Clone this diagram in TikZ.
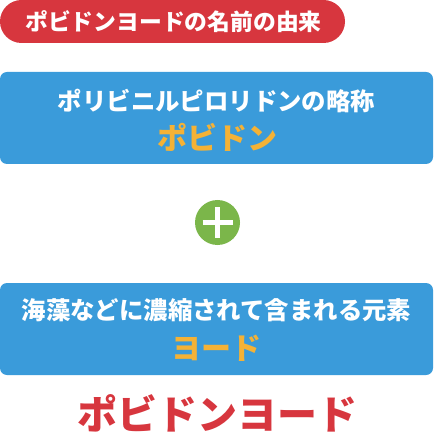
\documentclass[tikz,border=0pt]{standalone}
\usepackage{fontspec}
\newfontfamily\cjk{Noto Sans CJK JP}
\definecolor{pillred}{HTML}{D7363E}
\definecolor{boxblue}{HTML}{3A9BDA}
\definecolor{accorange}{HTML}{F4B236}
\definecolor{plusgreen}{HTML}{7BB64A}
\tikzset{
  panel/.style={fill=boxblue, draw=none, rounded corners=7pt},
  whitetxt/.style={text=white, font=\cjk\bfseries\fontsize{24.4}{26}\selectfont, inner sep=0pt},
  orangetxt/.style={text=accorange, font=\cjk\bfseries\fontsize{30}{32}\selectfont, inner sep=0pt},
}
\begin{document}
\begin{tikzpicture}[x=1pt,y=-1pt]
\useasboundingbox (0,0) rectangle (433,435);
% title pill
\path[fill=pillred, rounded corners=21.5pt] (0,0) rectangle (345,43);
\node[text=white, font=\cjk\bfseries\fontsize{22.8}{24}\selectfont, inner sep=0pt] (title) at (173.5,21.5) {ポビドンヨードの名前の由来};
% box 1
\path[panel] (0,72) rectangle (433,164);
\node[whitetxt] (l1) at (216.5,101) {ポリビニルピロリドンの略称};
\node[orangetxt] (o1) at (217,137) {ポビドン};
% plus
\node[circle, fill=plusgreen, minimum size=45pt, inner sep=0pt] (plus) at (217.5,222.5) {};
\draw[white, line width=5pt] ([xshift=-15pt]plus.center) -- ([xshift=15pt]plus.center);
\draw[white, line width=5pt] ([yshift=-15pt]plus.center) -- ([yshift=15pt]plus.center);
% box 2
\path[panel] (0,283) rectangle (433,375);
\node[whitetxt] (l2) at (216.5,310.5) {海藻などに濃縮されて含まれる元素};
\node[orangetxt] (o2) at (216.5,348) {ヨード};
% bottom
\node[text=pillred, font=\cjk\bfseries\fontsize{40}{42}\selectfont, inner sep=0pt, text depth=0pt, anchor=base] (result) at (217.5,429) {ポビドンヨード};
\end{tikzpicture}
\end{document}
